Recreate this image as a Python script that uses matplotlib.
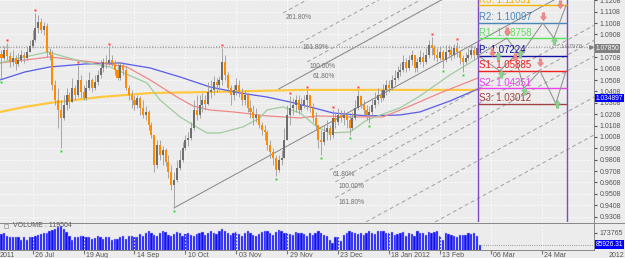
import numpy as np
import matplotlib.pyplot as plt
from matplotlib.path import Path

plt.rcParams['font.family'] = ['Liberation Sans', 'DejaVu Sans']

# ---- price data (daily bars, index 0 = 11 Jul 2011) ----
first_open = 1.0740
closes = [1.0702, 1.0772, 1.0719, 1.0667, 1.0702, 1.0649, 1.0684, 1.0728, 1.0702, 1.0754,
          1.0807, 1.0860, 1.0965, 1.1018, 1.0948, 1.0983, 1.0754, 1.0728, 1.0465, 1.0333,
          1.0245, 1.0175, 1.0289, 1.0377, 1.0315, 1.0438, 1.0377, 1.0509, 1.0403, 1.0351,
          1.0438, 1.0509, 1.0438, 1.0491, 1.0553, 1.0614, 1.0667, 1.0658, 1.0684, 1.0658,
          1.0596, 1.0526, 1.0640, 1.0596, 1.0438, 1.0377, 1.0333, 1.0289, 1.0351, 1.0263,
          1.0201, 1.0228, 1.0114, 1.0026, 0.9762, 0.9938, 0.9850, 0.9894, 0.9789, 0.9701,
          0.9587, 0.9631, 0.9736, 0.9806, 0.9912, 0.9982, 0.9999, 1.0087, 1.0245, 1.0201,
          1.0289, 1.0333, 1.0298, 1.0403, 1.0421, 1.0491, 1.0465, 1.0509, 1.0667, 1.0553,
          1.0438, 1.0377, 1.0421, 1.0465, 1.0403, 1.0333, 1.0377, 1.0263, 1.0228, 1.0175,
          1.0201, 1.0114, 1.0070, 1.0052, 0.9938, 0.9876, 0.9824, 0.9718, 0.9806, 0.9824,
          0.9982, 1.0201, 1.0263, 1.0289, 1.0333, 1.0245, 1.0289, 1.0333, 1.0377, 1.0263,
          1.0175, 1.0114, 0.9982, 0.9964, 1.0052, 1.0087, 1.0026, 1.0175, 1.0140, 1.0201,
          1.0175, 1.0201, 1.0157, 1.0087, 1.0175, 1.0263, 1.0368, 1.0289, 1.0245, 1.0201,
          1.0228, 1.0289, 1.0333, 1.0377, 1.0351, 1.0421, 1.0465, 1.0438, 1.0509, 1.0526,
          1.0579, 1.0596, 1.0667, 1.0614, 1.0684, 1.0728, 1.0614, 1.0667, 1.0711, 1.0667,
          1.0728, 1.0816, 1.0790, 1.0728, 1.0702, 1.0754, 1.0684, 1.0754, 1.0772, 1.0728,
          1.0790, 1.0754, 1.0702, 1.0667, 1.0702, 1.0728, 1.0772, 1.0728, 1.0790, 1.0785]
highs = [1.0772, 1.0807, 1.0833, 1.0754, 1.0772, 1.0728, 1.0746, 1.0772, 1.0754, 1.0807,
         1.0860, 1.0948, 1.1097, 1.1079, 1.1053, 1.1018, 1.1009, 1.0790, 1.0772, 1.0509,
         1.0438, 1.0333, 1.0377, 1.0438, 1.0403, 1.0526, 1.0465, 1.0640, 1.0553, 1.0465,
         1.0509, 1.0579, 1.0526, 1.0553, 1.0596, 1.0684, 1.0702, 1.0728, 1.0798, 1.0728,
         1.0684, 1.0667, 1.0667, 1.0667, 1.0632, 1.0465, 1.0421, 1.0377, 1.0377, 1.0368,
         1.0333, 1.0280, 1.0245, 1.0140, 1.0026, 0.9982, 0.9982, 0.9929, 0.9912, 0.9850,
         0.9762, 0.9701, 0.9806, 0.9894, 0.9964, 1.0026, 1.0052, 1.0140, 1.0333, 1.0377,
         1.0377, 1.0394, 1.0377, 1.0491, 1.0509, 1.0544, 1.0526, 1.0544, 1.0790, 1.0728,
         1.0579, 1.0465, 1.0465, 1.0526, 1.0509, 1.0438, 1.0421, 1.0394, 1.0333, 1.0289,
         1.0263, 1.0201, 1.0140, 1.0114, 1.0070, 0.9982, 0.9912, 0.9850, 0.9850, 0.9894,
         1.0087, 1.0289, 1.0368, 1.0351, 1.0377, 1.0377, 1.0351, 1.0377, 1.0421, 1.0377,
         1.0307, 1.0228, 1.0114, 1.0070, 1.0114, 1.0157, 1.0114, 1.0245, 1.0228, 1.0263,
         1.0245, 1.0245, 1.0228, 1.0201, 1.0228, 1.0333, 1.0421, 1.0377, 1.0333, 1.0289,
         1.0280, 1.0351, 1.0403, 1.0438, 1.0421, 1.0473, 1.0509, 1.0509, 1.0553, 1.0596,
         1.0632, 1.0658, 1.0728, 1.0702, 1.0728, 1.0772, 1.0728, 1.0702, 1.0772, 1.0754,
         1.0790, 1.0860, 1.0886, 1.0816, 1.0790, 1.0807, 1.0772, 1.0816, 1.0816, 1.0807,
         1.0825, 1.0842, 1.0772, 1.0728, 1.0754, 1.0790, 1.0816, 1.0807, 1.0833, 1.0833]
lows = [1.0517, 1.0684, 1.0684, 1.0623, 1.0632, 1.0596, 1.0632, 1.0667, 1.0658, 1.0684,
        1.0754, 1.0790, 1.0842, 1.0921, 1.0921, 1.0904, 1.0711, 1.0684, 1.0421, 1.0289,
        1.0087, 0.9912, 1.0157, 1.0245, 1.0263, 1.0333, 1.0333, 1.0359, 1.0351, 1.0333,
        1.0333, 1.0421, 1.0403, 1.0421, 1.0465, 1.0526, 1.0579, 1.0614, 1.0640, 1.0632,
        1.0553, 1.0509, 1.0509, 1.0553, 1.0421, 1.0333, 1.0263, 1.0245, 1.0263, 1.0201,
        1.0175, 1.0157, 1.0070, 0.9999, 0.9701, 0.9736, 0.9806, 0.9762, 0.9753, 0.9648,
        0.9543, 0.9385, 0.9613, 0.9718, 0.9789, 0.9894, 0.9929, 0.9982, 1.0070, 1.0157,
        1.0175, 1.0228, 1.0245, 1.0289, 1.0351, 1.0377, 1.0403, 1.0421, 1.0465, 1.0509,
        1.0403, 1.0289, 1.0333, 1.0377, 1.0359, 1.0289, 1.0289, 1.0228, 1.0175, 1.0114,
        1.0140, 1.0087, 1.0026, 0.9982, 0.9894, 0.9824, 0.9762, 0.9666, 0.9701, 0.9762,
        0.9824, 0.9982, 1.0114, 1.0201, 1.0228, 1.0210, 1.0228, 1.0263, 1.0245, 1.0228,
        1.0140, 1.0070, 0.9912, 0.9850, 0.9938, 0.9982, 0.9982, 0.9999, 1.0087, 1.0114,
        1.0140, 1.0114, 1.0087, 1.0026, 1.0070, 1.0157, 1.0245, 1.0263, 1.0201, 1.0157,
        1.0131, 1.0201, 1.0263, 1.0298, 1.0315, 1.0333, 1.0377, 1.0403, 1.0421, 1.0465,
        1.0509, 1.0544, 1.0579, 1.0579, 1.0596, 1.0640, 1.0579, 1.0579, 1.0649, 1.0623,
        1.0649, 1.0702, 1.0728, 1.0684, 1.0667, 1.0684, 1.0614, 1.0667, 1.0719, 1.0684,
        1.0702, 1.0711, 1.0649, 1.0579, 1.0649, 1.0684, 1.0702, 1.0684, 1.0702, 1.0754]

volumes = [168, 175, 150, 145, 145, 140, 145, 120, 145, 120,
           140, 145, 150, 160, 165, 170, 175, 185, 195, 205,
           215, 225, 200, 180, 150, 120, 140, 145, 150, 150,
           145, 140, 130, 135, 150, 140, 130, 145, 140, 120,
           125, 130, 140, 150, 125, 150, 150, 145, 140, 165,
           150, 175, 185, 170, 160, 150, 175, 185, 180, 160,
           150, 165, 180, 175, 150, 165, 170, 160, 150, 165,
           175, 180, 160, 170, 185, 175, 165, 190, 200, 185,
           170, 160, 175, 180, 165, 150, 170, 185, 175, 160,
           150, 165, 180, 190, 185, 175, 160, 180, 195, 185,
           170, 175, 165, 160, 180, 170, 175, 165, 150, 175,
           160, 170, 185, 175, 160, 150, 120, 95, 140, 145,
           110, 160, 170, 185, 180, 170, 165, 175, 160, 175,
           185, 170, 165, 190, 190, 185, 175, 170, 180, 160,
           165, 175, 180, 150, 170, 165, 150, 185, 170, 175,
           160, 180, 175, 180, 185, 150, 120, 170, 165, 160,
           150, 140, 160, 155, 160, 175, 165, 170, 150, 86]

# moving averages at sample bars
gold_bars = [-0.5, 8.3, 17, 26, 35, 44, 52.5, 74, 105.5, 148, 169]
gold_vals = [1.0228, 1.0272, 1.0307, 1.0333, 1.0359, 1.0377, 1.0394, 1.0403, 1.0421, 1.0421, 1.0421]
blue_bars = [-0.5, 8.3, 17.1, 29.5, 41.9, 52.5, 63.1, 73.7, 84.3, 93.8, 102, 109, 117.1, 129.1,
             140.8, 147.9, 158.5, 168.4]
blue_vals = [1.0509, 1.0579, 1.0623, 1.0649, 1.0658, 1.0614, 1.0535, 1.0447, 1.0394, 1.0359,
             1.0315, 1.0272, 1.0219, 1.0193, 1.0201, 1.0228, 1.0324, 1.0430]
red_bars = [-0.5, 8.3, 17.1, 26, 34.8, 44.3, 52.5, 62, 67.7, 73.7, 81.8, 93.8, 105.5, 111.5,
            123.2, 134.8, 144.4, 155, 168.4]
red_vals = [1.0658, 1.0684, 1.0711, 1.0684, 1.0658, 1.0623, 1.0509, 1.0359, 1.0280, 1.0245,
            1.0228, 1.0193, 1.0175, 1.0193, 1.0184, 1.0184, 1.0280, 1.0394, 1.0526]
green_bars = [-0.5, 6.5, 16.4, 28.8, 38.3, 46.5, 51.4, 56, 63.1, 67.7, 72.6, 77.2, 85.3, 91.3,
              93.8, 99.5, 105.5, 111.5, 116.1, 123.2, 129.1, 140.8, 147.9, 158.5, 168.4]
green_vals = [1.0658, 1.0702, 1.0754, 1.0667, 1.0623, 1.0535, 1.0482, 1.0333, 1.0184, 1.0114,
              1.0043, 1.0043, 1.0096, 1.0175, 1.0245, 1.0272, 1.0219, 1.0096, 1.0043, 1.0052,
              1.0157, 1.0263, 1.0368, 1.0553, 1.0702]

up_fractals = [2, 12, 27, 38, 78, 102, 108, 117, 126, 152, 161]
down_fractals = [0, 21, 61, 97, 113, 123, 130, 156, 163]

# pivot levels for the next period
pivot_names = ["R3", "R2", "R1", "P", "S1", "S2", "S3"]
pivot_values = [1.11631, 1.10097, 1.08758, 1.07224, 1.05885, 1.04351, 1.03012]
pivot_colors = ["#f5b400", "#4a86b8", "#5ee05e", "#1010a0", "#f02020", "#ee40ee", "#a04040"]
pivot_start, pivot_end = 168.4, 199.8

# projected swings inside the pivot box
swing_up_bars = [168.4, 178.6, 183.2, 191.3, 195.2, 199.5]
swing_up_vals = [1.07224, 1.08758, 1.07224, 1.10097, 1.08758, 1.11631]
swing_dn_bars = [168.4, 176.1, 181.5, 184.6, 190.3, 195.9, 199.5]
swing_dn_vals = [1.07224, 1.05885, 1.07224, 1.04351, 1.05885, 1.03012, 1.05885]
sell_bars = [173.3, 178.6, 181.5, 190.3, 191.3, 197.4]
sell_vals = [1.0746, 1.0930, 1.0702, 1.0658, 1.1062, 1.1167]
buy_bars = [175.4, 176.5, 183.2, 184.6, 195.2, 196.3]
buy_vals = [1.0728, 1.0570, 1.0746, 1.0421, 1.0860, 1.0307]

# fibonacci channel lines (start bar, start price)
fib_slope = 0.00136
main_lines = [(61.0, 0.9385), (98.0, 1.0430)]
fib_up = [("261.80%", 99.5, 1.1097), ("161.80%", 105.5, 1.0833), ("100.00%", 108, 1.0667),
          ("61.80%", 109, 1.0579)]
fib_dn = [("61.80%", 116, 0.9718), ("100.00%", 118, 0.9613), ("161.80%", 118, 0.9474)]
fib_extra = [(128.8, 0.9261), (153.2, 0.9261)]

date_ticks = [11, 29, 47, 65, 83, 101, 119, 137, 155, 173, 191]
date_labels = ["26 Jul", "19 Aug", "14 Sep", "10 Oct", "03 Nov", "29 Nov", "23 Dec",
               "18 Jan 2012", "13 Feb", "06 Mar", "24 Mar"]
price_ticks = [0.9308 + 0.01 * k for k in range(20)]

bid = 1.07850
line_level = 1.07978
ma_label = 1.034897
vol_last = 85926.31
vol_mark = 173765

BG = "#ececec"
XMIN, XMAX = -0.53, 209.4
fig = plt.figure(figsize=(6.25, 2.58), dpi=100, facecolor=BG)
ax = fig.add_axes([0, 36 / 258, 594 / 625, 222 / 258], facecolor=BG)
axv = fig.add_axes([0, 8 / 258, 594 / 625, 26 / 258], facecolor=BG)

n = len(closes)
x = np.arange(n)
opens = [first_open] + closes[:-1]

for i in range(n):
    o, c = opens[i], closes[i]
    hi = max(highs[i], o, c)
    lo = min(lows[i], o, c)
    col = "#6e6e6e" if c >= o else "#ff8c00"
    ax.vlines(i, lo, hi, color="#9a9a9a", lw=0.6, zorder=3)
    ax.bar(i, max(abs(c - o), 0.0003), bottom=min(o, c), width=0.72, color=col, lw=0, zorder=4)

ax.plot(gold_bars, gold_vals, color="#ffc840", lw=1.6, zorder=2)
ax.plot(blue_bars, blue_vals, color="#5a5ae8", lw=0.9, zorder=2)
ax.plot(red_bars, red_vals, color="#f08888", lw=0.9, zorder=2)
ax.plot(green_bars, green_vals, color="#a0cca0", lw=0.9, zorder=2)

ax.scatter(up_fractals, [highs[i] + 0.0025 for i in up_fractals], marker="s", s=2.5,
           color="#ff3030", edgecolors="#ffb0b0", lw=0.4, zorder=5)
ax.scatter(down_fractals, [lows[i] - 0.0025 for i in down_fractals], marker="s", s=2.5,
           color="#30c030", edgecolors="#b0f0b0", lw=0.4, zorder=5)

# channel lines
for b0, p0 in main_lines:
    ax.plot([b0, 215], [p0, p0 + fib_slope * (215 - b0)], color="#858585", lw=0.7, zorder=2)
for lab, b0, p0 in fib_up + fib_dn:
    ax.plot([b0, 215], [p0, p0 + fib_slope * (215 - b0)], color="#a0a0a0", lw=0.7,
            ls=(0, (4, 3)), zorder=2)
    ax.text(b0 + 1, p0 - 0.001, lab, fontsize=4.8, color="#707070", va="top", ha="left", zorder=6)
for b0, p0 in fib_extra:
    ax.plot([b0, 215], [p0, p0 + fib_slope * (215 - b0)], color="#a0a0a0", lw=0.7,
            ls=(0, (4, 3)), zorder=2)

# current level line
ax.axhline(line_level, color="#a8a8a8", lw=1.6, ls=(0, (0.6, 0.6)), zorder=1)
ax.text(205.5, line_level + 0.0003, "1.07978", fontsize=4.4, color="#808080", va="center", ha="right")
ax.plot([208.2], [line_level], marker=">", ms=2.5, color="#808080", clip_on=False)

# pivot box
ax.vlines([pivot_start, pivot_end], 0.92, 1.13, color="#7a4cc0", lw=1.0, zorder=3)
for name, val, col in zip(pivot_names, pivot_values, pivot_colors):
    ax.hlines(val, pivot_start, pivot_end, color=col, lw=1.0, zorder=3)
    ax.text(pivot_start + 0.3, val + 0.0004, f"{name}: {val:.5f}", fontsize=7, color=col,
            va="bottom", ha="left", zorder=6)
ax.plot(swing_up_bars, swing_up_vals, color="#8a8a8a", lw=0.7, zorder=4)
ax.plot(swing_dn_bars, swing_dn_vals, color="#8a8a8a", lw=0.7, zorder=4)

down_arrow = Path([(-0.3, 1), (0.3, 1), (0.3, 0.15), (0.65, 0.15), (0, -0.7), (-0.65, 0.15),
                   (-0.3, 0.15), (-0.3, 1)], closed=True)
up_arrow = Path([(vx, -vy) for vx, vy in down_arrow.vertices], closed=True)
ax.scatter(sell_bars, sell_vals, marker=down_arrow, s=45, color="#f08a8a", edgecolors="#e07070",
           lw=0.3, zorder=6)
ax.scatter(buy_bars, buy_vals, marker=up_arrow, s=45, color="#90d090", edgecolors="#70b870",
           lw=0.3, zorder=6)

ax.set_xlim(XMIN, XMAX)
ax.set_ylim(0.9261, 1.1211)
ax.yaxis.tick_right()
ax.set_yticks(price_ticks)
ax.set_yticklabels(["" if abs(t - 1.0808) < 1e-6 else f"{t:.4f}" for t in price_ticks])
ax.tick_params(axis="y", length=2, labelsize=5, labelcolor="#555555", color="#555555", pad=2)
ax.set_xticks(date_ticks)
ax.tick_params(axis="x", length=0, labelbottom=False)
ax.grid(True, color="#ffffff", lw=0.6, ls=(0, (2, 2)))
for s in ["top", "left", "bottom"]:
    ax.spines[s].set_visible(False)
ax.spines["right"].set_color("#777777")
ax.spines["right"].set_linewidth(0.6)

for val, txt, fc in [(bid, "1.07850", "#808080"), (ma_label, "1.034897", "#0000ff")]:
    ax.text(1.003, val, txt, transform=ax.get_yaxis_transform(), fontsize=4.8, color="white",
            va="center", ha="left", bbox=dict(boxstyle="square,pad=0.12", fc=fc, ec="none"), zorder=7,
            clip_on=False)

# volume
axv.bar(x, [v * 1000 for v in volumes], width=0.8, color="#1010f0", edgecolor="#b0b0ff", lw=0.35)
axv.set_xlim(XMIN, XMAX)
axv.set_ylim(44881, 240000)
axv.axhline(vol_last, xmin=(169.5 - XMIN) / (XMAX - XMIN), color="#777777", lw=0.6, ls=":")
axv.yaxis.tick_right()
axv.set_yticks([vol_mark])
axv.set_yticklabels([str(vol_mark)])
axv.tick_params(axis="y", length=2, labelsize=5, labelcolor="#555555", color="#555555", pad=2)
axv.text(1.003, vol_last, "85926.31", transform=axv.get_yaxis_transform(), fontsize=4.8, color="white",
         va="center", ha="left", bbox=dict(boxstyle="square,pad=0.12", fc="#0000ff", ec="none"),
         clip_on=False)
axv.plot([1.5], [228000], marker="s", ms=3, mfc="none", mec="#999999", mew=0.5)
axv.text(4, 228000, "VOLUME : 119504", fontsize=5, color="#555555", va="center")
axv.set_xticks(date_ticks)
axv.set_xticklabels([])
axv.tick_params(axis="x", length=3, color="#777777", direction="out")
axv.grid(True, axis="x", color="#ffffff", lw=0.6, ls=(0, (2, 2)))
for s in ["top", "left"]:
    axv.spines[s].set_visible(False)
for s in ["bottom", "right"]:
    axv.spines[s].set_color("#777777")
    axv.spines[s].set_linewidth(0.6)
for t, lab in zip(date_ticks, date_labels):
    axv.text(t + 0.8, -0.08, lab, transform=axv.get_xaxis_transform(), fontsize=5, color="#555555",
             va="top", ha="left", clip_on=False)
axv.text(-0.5, -0.08, "2011", transform=axv.get_xaxis_transform(), fontsize=5, color="#555555",
         va="top", ha="left")
axv.text(1.025, -0.08, "2012", transform=axv.transAxes, fontsize=5, color="#555555", va="top",
         ha="left", clip_on=False)
fig.add_artist(plt.Line2D([0, 1], [35 / 258, 35 / 258], color="#777777", lw=0.6))

fig.savefig("out.png", dpi=100, facecolor=BG)
